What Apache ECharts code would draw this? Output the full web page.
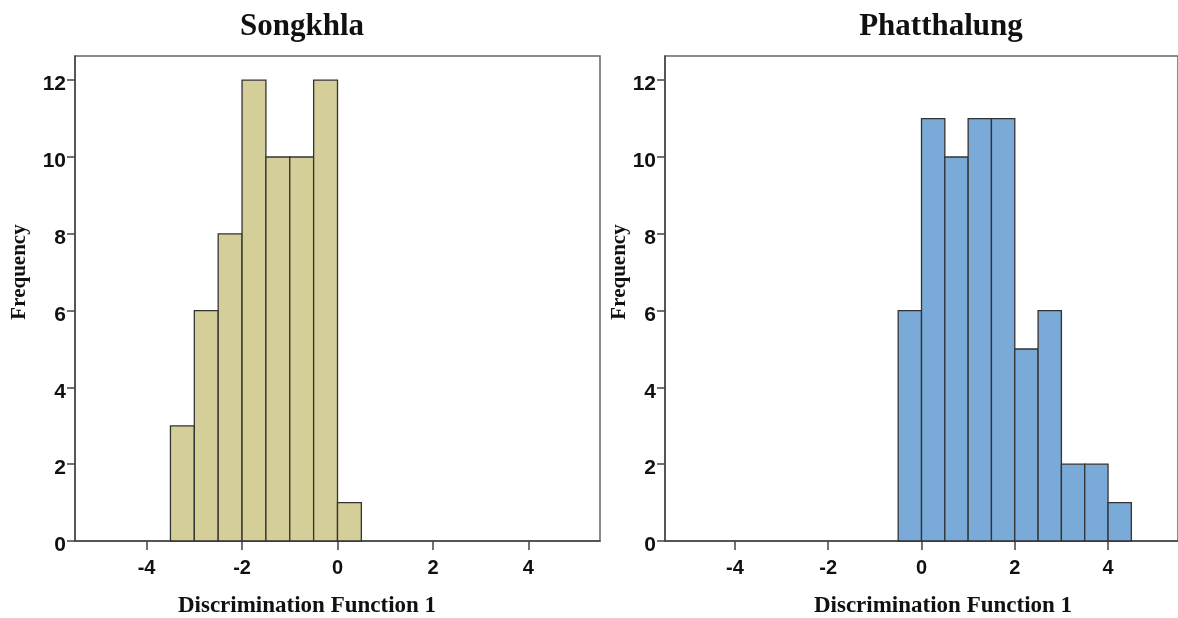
<!DOCTYPE html>
<html>
<head>
<meta charset="utf-8">
<script src="https://cdn.jsdelivr.net/npm/echarts@6/dist/echarts.min.js"></script>
<style>html,body{margin:0;padding:0;background:#fff}#c{width:1178px;height:618px}</style>
</head>
<body>
<div id="c"></div>
<script>
// Data
var titles = ['Songkhla', 'Phatthalung'];
var binWidth = 0.5;
var songkhlaBinStarts = [-3.5, -3, -2.5, -2, -1.5, -1, -0.5, 0];
var songkhlaCounts = [3, 6, 8, 12, 10, 10, 12, 1];
var phatthalungBinStarts = [-0.5, 0, 0.5, 1, 1.5, 2, 2.5, 3, 3.5, 4];
var phatthalungCounts = [6, 11, 10, 11, 11, 5, 6, 2, 2, 1];
var xTicks = [-4, -2, 0, 2, 4];
var yTicks = [0, 2, 4, 6, 8, 10, 12];
var xName = 'Discrimination Function 1';
var yName = 'Frequency';

var chart = echarts.init(document.getElementById('c'));

function toData(starts, counts) {
  return starts.map(function (s, i) { return [s, s + binWidth, counts[i]]; });
}
function renderItem(params, api) {
  var p0 = api.coord([api.value(0), api.value(2)]);
  var p1 = api.coord([api.value(1), 0]);
  return {
    type: 'rect',
    shape: { x: p0[0], y: p0[1], width: p1[0] - p0[0], height: p1[1] - p0[1] },
    style: api.style()
  };
}
var grids = [
  { left: 75, top: 56, width: 525, height: 485 },
  { left: 665, top: 56, width: 520, height: 485 }
];
var sans = 'Liberation Sans, Arial, sans-serif';
function xAxis(i) {
  return {
    gridIndex: i, type: 'value', min: -5.5, max: 5.5,
    axisLine: { show: true, onZero: false, lineStyle: { color: '#444', width: 1.5 } },
    axisTick: { show: true, length: 9, customValues: xTicks, lineStyle: { color: '#444', width: 1.5 } },
    axisLabel: { customValues: xTicks, margin: 17, color: '#111', fontSize: 20, fontWeight: 'bold', fontFamily: sans },
    splitLine: { show: false }
  };
}
function yAxis(i) {
  return {
    gridIndex: i, type: 'value', min: 0, max: 12.63,
    axisLine: { show: true, onZero: false, lineStyle: { color: '#444', width: 1.5 } },
    axisTick: { show: true, length: 8, customValues: yTicks, lineStyle: { color: '#444', width: 1.5 } },
    axisLabel: {
      customValues: yTicks, margin: 9,
      formatter: function (v) { return '{a|' + v + '}'; },
      rich: { a: { color: '#111', fontSize: 21, fontWeight: 'bold', fontFamily: sans, padding: [9, 0, 0, 0] } }
    },
    splitLine: { show: false }
  };
}
var serif = 'Liberation Serif, Times New Roman, serif';
function txt(x, y, t, size, rot) {
  return {
    type: 'text', x: x, y: y, rotation: rot || 0,
    style: { text: t, fill: '#111', font: 'bold ' + size + 'px ' + serif, textAlign: 'center', textVerticalAlign: 'middle' }
  };
}
chart.setOption({
  animation: false,
  grid: grids.map(function (g) { return Object.assign({ show: true, borderColor: '#666', borderWidth: 1.5, backgroundColor: '#fff' }, g); }),
  xAxis: [xAxis(0), xAxis(1)],
  yAxis: [yAxis(0), yAxis(1)],
  series: [
    { type: 'custom', xAxisIndex: 0, yAxisIndex: 0, renderItem: renderItem,
      itemStyle: { color: '#d4cf98', borderColor: '#333', borderWidth: 1.3 },
      encode: { x: [0, 1], y: 2 }, data: toData(songkhlaBinStarts, songkhlaCounts) },
    { type: 'custom', xAxisIndex: 1, yAxisIndex: 1, renderItem: renderItem,
      itemStyle: { color: '#7aaad7', borderColor: '#333', borderWidth: 1.3 },
      encode: { x: [0, 1], y: 2 }, data: toData(phatthalungBinStarts, phatthalungCounts) }
  ],
  graphic: [
    txt(302, 27, titles[0], 31),
    txt(941, 27, titles[1], 31),
    txt(307, 606, xName, 23),
    txt(943, 606, xName, 23),
    txt(20, 272, yName, 21, Math.PI / 2),
    txt(620, 272, yName, 21, Math.PI / 2)
  ]
});
</script>
</body>
</html>
